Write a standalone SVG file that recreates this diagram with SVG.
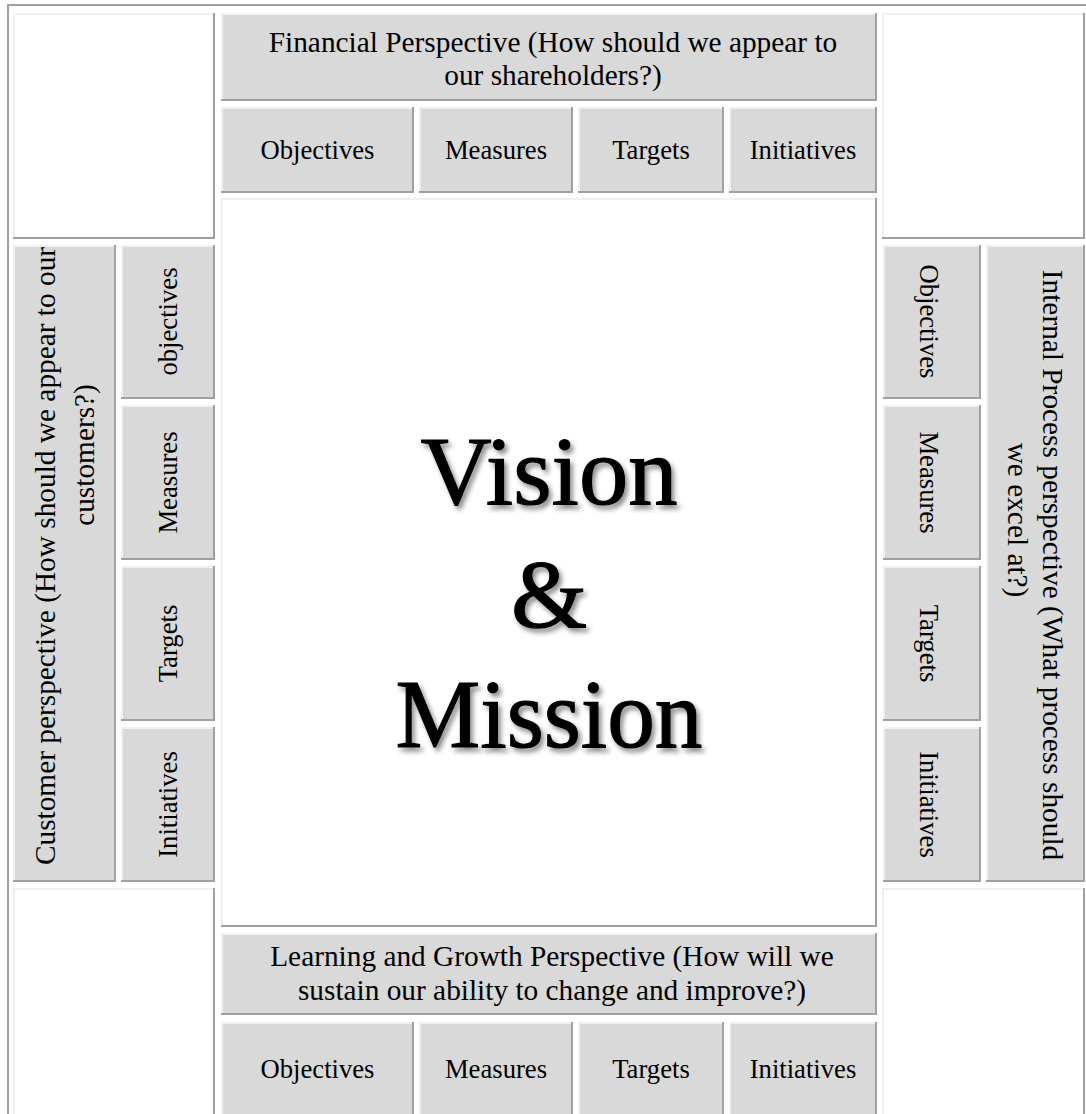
<svg xmlns="http://www.w3.org/2000/svg" width="1086" height="1114" viewBox="0 0 1086 1114">
<style>
.dk{fill:#a0a0a0}
.lt{fill:#f0f0f0}
.g{fill:#d9d9d9}
.w{fill:#ffffff}
.lb{font-family:"Liberation Serif","Times New Roman",serif;font-size:26.67px;fill:#000;text-anchor:middle}
.hd{font-family:"Liberation Serif","Times New Roman",serif;font-size:29.33px;fill:#000;text-anchor:middle}
.vm{font-family:"Liberation Serif","Times New Roman",serif;font-size:98px;fill:#000;stroke:#000;stroke-width:1.2;text-anchor:middle}
</style>
<defs>
<filter id="sh" x="-10%" y="-10%" width="130%" height="130%">
<feDropShadow dx="3" dy="4" stdDeviation="2.5" flood-color="#000" flood-opacity="0.45"/>
</filter>
</defs>
<rect x="0" y="0" width="1086" height="1114" fill="#ffffff"/>
<g id="table-border">
<rect x="7" y="4" width="1079" height="2" class="dk"/>
<rect x="7" y="4" width="2" height="1110" class="dk"/>
</g>
<g id="corner-tl"><rect class="dk" x="13" y="13" width="202" height="226"/><rect class="lt" x="13" y="13" width="200" height="224"/><rect class="w" x="15" y="15" width="198" height="222"/></g>
<g id="corner-tr"><rect class="dk" x="882" y="13" width="203" height="226"/><rect class="lt" x="882" y="13" width="201" height="224"/><rect class="w" x="884" y="15" width="199" height="222"/></g>
<g id="corner-bl"><rect class="dk" x="13" y="888" width="202" height="240"/><rect class="lt" x="13" y="888" width="200" height="238"/><rect class="w" x="15" y="890" width="198" height="236"/></g>
<g id="corner-br"><rect class="dk" x="882" y="888" width="203" height="240"/><rect class="lt" x="882" y="888" width="201" height="238"/><rect class="w" x="884" y="890" width="199" height="236"/></g>

<g id="financial">
<rect class="dk" x="221" y="13" width="656" height="88"/><rect class="lt" x="221" y="13" width="654" height="86"/><rect class="g" x="223" y="15" width="652" height="84"/>
<text class="hd" x="553" y="52">Financial Perspective (How should we appear to</text>
<text class="hd" x="553" y="85">our shareholders?)</text>
</g>
<g id="fin-objectives"><rect class="dk" x="221" y="107" width="193" height="86"/><rect class="lt" x="221" y="107" width="191" height="84"/><rect class="g" x="223" y="109" width="189" height="82"/><text class="lb" x="317.5" y="159">Objectives</text></g>
<g id="fin-measures"><rect class="dk" x="419" y="107" width="154" height="86"/><rect class="lt" x="419" y="107" width="152" height="84"/><rect class="g" x="421" y="109" width="150" height="82"/><text class="lb" x="496" y="159">Measures</text></g>
<g id="fin-targets"><rect class="dk" x="578" y="107" width="146" height="86"/><rect class="lt" x="578" y="107" width="144" height="84"/><rect class="g" x="580" y="109" width="142" height="82"/><text class="lb" x="651" y="159">Targets</text></g>
<g id="fin-initiatives"><rect class="dk" x="729" y="107" width="148" height="86"/><rect class="lt" x="729" y="107" width="146" height="84"/><rect class="g" x="731" y="109" width="144" height="82"/><text class="lb" x="803" y="159">Initiatives</text></g>

<g id="center">
<rect class="dk" x="221" y="198" width="656" height="729"/><rect class="lt" x="221" y="198" width="654" height="727"/><rect class="w" x="223" y="200" width="652" height="725"/>
<g filter="url(#sh)">
<text class="vm" x="549" y="504" textLength="257" lengthAdjust="spacingAndGlyphs">Vision</text>
<text class="vm" x="549" y="627">&amp;</text>
<text class="vm" x="549" y="747" textLength="307" lengthAdjust="spacingAndGlyphs">Mission</text>
</g>
</g>

<g id="customer">
<rect class="dk" x="13" y="245" width="103" height="637"/><rect class="lt" x="13" y="245" width="101" height="635"/><rect class="g" x="15" y="247" width="99" height="633"/>
<text class="hd" transform="translate(55,556) rotate(-90)">Customer perspective (How should we appear to our</text>
<text class="hd" transform="translate(94,455) rotate(-90)">customers?)</text>
</g>
<g id="cus-objectives"><rect class="dk" x="121" y="245" width="94" height="154"/><rect class="lt" x="121" y="245" width="92" height="152"/><rect class="g" x="123" y="247" width="90" height="150"/><text class="lb" transform="translate(177,321.5) rotate(-90)">objectives</text></g>
<g id="cus-measures"><rect class="dk" x="121" y="405" width="94" height="155"/><rect class="lt" x="121" y="405" width="92" height="153"/><rect class="g" x="123" y="407" width="90" height="151"/><text class="lb" transform="translate(177,482.5) rotate(-90)">Measures</text></g>
<g id="cus-targets"><rect class="dk" x="121" y="566" width="94" height="155"/><rect class="lt" x="121" y="566" width="92" height="153"/><rect class="g" x="123" y="568" width="90" height="151"/><text class="lb" transform="translate(177,643.5) rotate(-90)">Targets</text></g>
<g id="cus-initiatives"><rect class="dk" x="121" y="727" width="94" height="155"/><rect class="lt" x="121" y="727" width="92" height="153"/><rect class="g" x="123" y="729" width="90" height="151"/><text class="lb" transform="translate(177,804.5) rotate(-90)">Initiatives</text></g>

<g id="int-objectives"><rect class="dk" x="883" y="245" width="98" height="154"/><rect class="lt" x="883" y="245" width="96" height="152"/><rect class="g" x="885" y="247" width="94" height="150"/><text class="lb" transform="translate(920,321.5) rotate(90)">Objectives</text></g>
<g id="int-measures"><rect class="dk" x="883" y="405" width="98" height="155"/><rect class="lt" x="883" y="405" width="96" height="153"/><rect class="g" x="885" y="407" width="94" height="151"/><text class="lb" transform="translate(920,482.5) rotate(90)">Measures</text></g>
<g id="int-targets"><rect class="dk" x="883" y="566" width="98" height="155"/><rect class="lt" x="883" y="566" width="96" height="153"/><rect class="g" x="885" y="568" width="94" height="151"/><text class="lb" transform="translate(920,643.5) rotate(90)">Targets</text></g>
<g id="int-initiatives"><rect class="dk" x="883" y="727" width="98" height="155"/><rect class="lt" x="883" y="727" width="96" height="153"/><rect class="g" x="885" y="729" width="94" height="151"/><text class="lb" transform="translate(920,804.5) rotate(90)">Initiatives</text></g>
<g id="internal">
<rect class="dk" x="986" y="245" width="99" height="637"/><rect class="lt" x="986" y="245" width="97" height="635"/><rect class="g" x="988" y="247" width="95" height="633"/>
<text class="hd" transform="translate(1043,565) rotate(90)">Internal Process perspective (What process should</text>
<text class="hd" transform="translate(1008,520) rotate(90)">we excel at?)</text>
</g>

<g id="learning">
<rect class="dk" x="221" y="933" width="656" height="82"/><rect class="lt" x="221" y="933" width="654" height="80"/><rect class="g" x="223" y="935" width="652" height="78"/>
<text class="hd" x="552" y="966">Learning and Growth Perspective (How will we</text>
<text class="hd" x="552" y="1000">sustain our ability to change and improve?)</text>
</g>
<g id="lg-objectives"><rect class="dk" x="221" y="1022" width="193" height="100"/><rect class="lt" x="221" y="1022" width="191" height="98"/><rect class="g" x="223" y="1024" width="189" height="96"/><text class="lb" x="317.5" y="1078">Objectives</text></g>
<g id="lg-measures"><rect class="dk" x="419" y="1022" width="154" height="100"/><rect class="lt" x="419" y="1022" width="152" height="98"/><rect class="g" x="421" y="1024" width="150" height="96"/><text class="lb" x="496" y="1078">Measures</text></g>
<g id="lg-targets"><rect class="dk" x="578" y="1022" width="146" height="100"/><rect class="lt" x="578" y="1022" width="144" height="98"/><rect class="g" x="580" y="1024" width="142" height="96"/><text class="lb" x="651" y="1078">Targets</text></g>
<g id="lg-initiatives"><rect class="dk" x="729" y="1022" width="148" height="100"/><rect class="lt" x="729" y="1022" width="146" height="98"/><rect class="g" x="731" y="1024" width="144" height="96"/><text class="lb" x="803" y="1078">Initiatives</text></g>
<g id="connectors"/>
</svg>
